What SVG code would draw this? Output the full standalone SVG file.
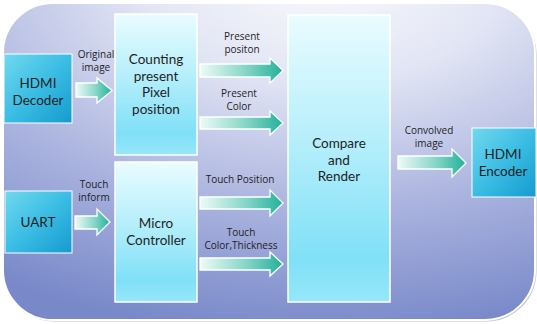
<svg xmlns="http://www.w3.org/2000/svg" width="537" height="324" viewBox="0 0 537 324">
<defs>
<radialGradient id="bg" cx="0.6" cy="-0.1" r="1.15">
<stop offset="0" stop-color="#fbfbfd"/>
<stop offset="0.3" stop-color="#e2e5f4"/>
<stop offset="0.65" stop-color="#abb4df"/>
<stop offset="1" stop-color="#7888c9"/>
</radialGradient>
<linearGradient id="light" x1="0" y1="0" x2="0" y2="1">
<stop offset="0" stop-color="#eafcff"/>
<stop offset="0.45" stop-color="#b4eefb"/>
<stop offset="0.85" stop-color="#80e0f7"/>
<stop offset="1" stop-color="#96e7f9"/>
</linearGradient>
<linearGradient id="dark" x1="0" y1="0" x2="1" y2="1">
<stop offset="0" stop-color="#72d8ee"/>
<stop offset="0.5" stop-color="#3bbde4"/>
<stop offset="1" stop-color="#149bcf"/>
</linearGradient>
<linearGradient id="arr" x1="0" y1="0" x2="1" y2="0">
<stop offset="0" stop-color="#eefaf7"/>
<stop offset="0.55" stop-color="#86d6c7"/>
<stop offset="1" stop-color="#22b09a"/>
</linearGradient>
</defs>
<style>
.node-light{fill:url(#light);stroke:#ffffff;stroke-width:1.5}
.node-dark{fill:url(#dark);stroke:#ffffff;stroke-width:1}
.arrow{fill:url(#arr);stroke:#ffffff;stroke-width:1.3;stroke-linejoin:miter}
.nt{font-family:Lato,"Open Sans",sans-serif;font-size:13.5px;fill:#1e1e1e;text-anchor:middle}
.lt{font-family:"Open Sans","Noto Sans",sans-serif;font-size:10px;fill:#1e1e1e;text-anchor:middle}
</style>
<rect x="4.5" y="4.5" width="532" height="317" rx="50" fill="#9a9aa6" opacity="0.6"/>
<rect x="3" y="3" width="532" height="317" rx="50" fill="url(#bg)" stroke="#ffffff" stroke-width="2"/>

<g id="connectors">
<path class="arrow" d="M76,83 H97 V78 L112,90.5 L97,103 V97 H76 Z"/>
<path class="arrow" d="M75,216 H97 V209 L110,222 L97,235 V229 H75 Z"/>
<path class="arrow" d="M200,64 H270 V58 L283,70.5 L270,83 V77 H200 Z"/>
<path class="arrow" d="M200,117 H270 V111 L283,123 L270,135 V129 H200 Z"/>
<path class="arrow" d="M200,197 H270 V190 L283,203 L270,216 V209 H200 Z"/>
<path class="arrow" d="M200,258 H270 V252 L283,264 L270,276 V270 H200 Z"/>
<path class="arrow" d="M398,156 H452 V149 L466,163 L452,177 V169 H398 Z"/>
<text class="lt" x="96" y="58">Original</text>
<text class="lt" x="96" y="71">image</text>
<text class="lt" x="94" y="188">Touch</text>
<text class="lt" x="94" y="201">inform</text>
<text class="lt" x="242" y="40">Present</text>
<text class="lt" x="242" y="53">positon</text>
<text class="lt" x="239" y="97">Present</text>
<text class="lt" x="239" y="110">Color</text>
<text class="lt" x="240" y="183">Touch Position</text>
<text class="lt" x="241" y="236">Touch</text>
<text class="lt" x="241" y="249">Color,Thickness</text>
<text class="lt" x="429" y="134">Convolved</text>
<text class="lt" x="429" y="147">image</text>
</g>

<g id="hdmi-decoder">
<rect class="node-dark" x="4" y="54" width="68" height="69"/>
<text class="nt" x="38" y="88">HDMI</text>
<text class="nt" x="38" y="104.5">Decoder</text>
</g>
<g id="uart">
<rect class="node-dark" x="5" y="191" width="67" height="62"/>
<text class="nt" x="38" y="227">UART</text>
</g>
<g id="counting">
<rect class="node-light" x="115" y="14" width="82" height="141"/>
<text class="nt" x="156" y="64">Counting</text>
<text class="nt" x="156" y="80.5">present</text>
<text class="nt" x="156" y="97">Pixel</text>
<text class="nt" x="156" y="113.5">position</text>
</g>
<g id="micro-controller">
<rect class="node-light" x="115" y="162" width="82" height="140"/>
<text class="nt" x="156" y="228">Micro</text>
<text class="nt" x="156" y="244.5">Controller</text>
</g>
<g id="compare-render">
<rect class="node-light" x="288" y="15" width="102" height="287"/>
<text class="nt" x="339" y="148">Compare</text>
<text class="nt" x="339" y="164.5">and</text>
<text class="nt" x="339" y="181">Render</text>
</g>
<g id="hdmi-encoder">
<rect class="node-dark" x="472" y="128" width="64" height="69"/>
<text class="nt" x="503" y="159">HDMI</text>
<text class="nt" x="503" y="175.5">Encoder</text>
</g>
</svg>
